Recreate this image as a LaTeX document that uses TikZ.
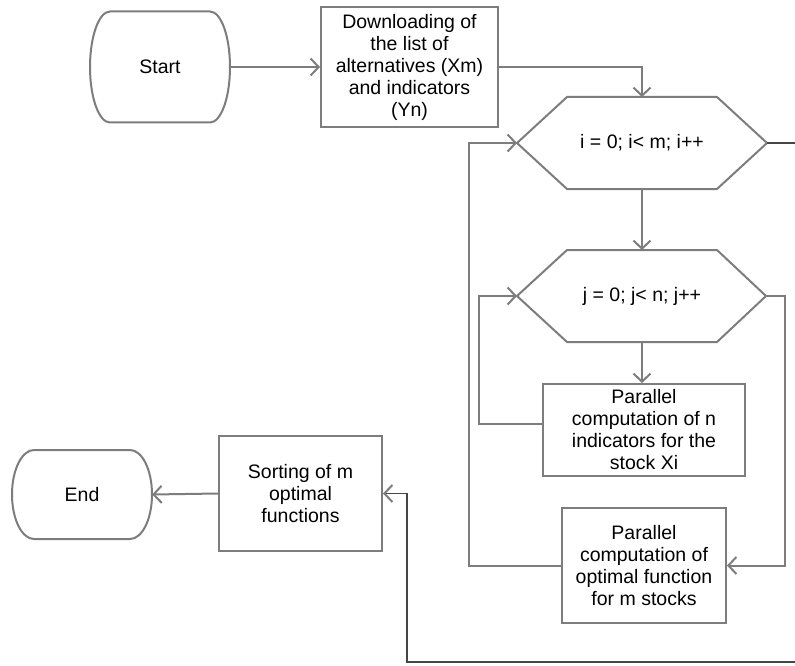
\documentclass[tikz,border=0pt]{standalone}
\usepackage{fontspec}
\setmainfont{Liberation Sans}
\usetikzlibrary{arrows.meta}
\definecolor{lgray}{RGB}{125,125,125}
\definecolor{dgray}{RGB}{70,70,70}
\begin{document}
\begin{tikzpicture}[x=1pt,y=-1pt,
  line/.style={draw=lgray, line width=2pt},
  arr/.style={line, -{Straight Barb[length=8pt,width=17pt,line width=2pt]}},
  darr/.style={draw=dgray, line width=1.6pt, -{Straight Barb[length=8pt,width=17pt,line width=2pt,color=lgray]}},
  txt/.style={align=center, font=\fontsize{19.5}{22}\selectfont, inner sep=0pt, text=black},
  box/.style={txt, draw=lgray, line width=2pt},
  term/.style={txt, draw=none}]
\clip (0,0) rectangle (795,666);
\fill[white] (0,0) rectangle (795,666);
% terminals
\node[term, minimum width=140, minimum height=111] (start) at (160,67) {Start};
\draw[line] (110,11.5) -- (210,11.5) .. controls (221.05,11.5) and (230,36.35) .. (230,67)
  .. controls (230,97.65) and (221.05,122.5) .. (210,122.5) -- (110,122.5)
  .. controls (98.95,122.5) and (90,97.65) .. (90,67)
  .. controls (90,36.35) and (98.95,11.5) .. (110,11.5) -- cycle;
\node[term, minimum width=140, minimum height=89] (end) at (82,494.5) {End};
\draw[line] (34,450) -- (130,450) .. controls (142.15,450) and (152,469.92) .. (152,494.5)
  .. controls (152,519.08) and (142.15,539) .. (130,539) -- (34,539)
  .. controls (21.85,539) and (12,519.08) .. (12,494.5)
  .. controls (12,469.92) and (21.85,450) .. (34,450) -- cycle;
% boxes
\node[box, minimum width=177, minimum height=120] (dl) at (409.5,67)
  {Downloading of\\the list of\\alternatives (Xm)\\and indicators\\(Yn)};
\node[box, minimum width=202, minimum height=92] (b3) at (644,430)
  {Parallel\\computation of n\\indicators for the\\stock Xi};
\node[box, minimum width=164, minimum height=115] (b4) at (644,565.5)
  {Parallel\\computation of\\optimal function\\for m stocks};
\node[box, minimum width=163, minimum height=115] (sort) at (300.5,493.5)
  {Sorting of m\\optimal\\functions};
% hexagons
\draw[line] (517,143) -- (567,97) -- (717,97) -- (767,143) -- (717,189) -- (567,189) -- cycle;
\node[txt] (h1) at (642,143) {i = 0; i< m; i++};
\coordinate (h1w) at (517,143);
\coordinate (h1e) at (767,143);
\coordinate (h1n) at (642,97);
\coordinate (h1s) at (642,189);
\draw[line] (517,296) -- (567,250) -- (717,250) -- (766,296) -- (717,342) -- (567,342) -- cycle;
\node[txt] (h2) at (642,296) {j = 0; j< n; j++};
\coordinate (h2w) at (517,296);
\coordinate (h2e) at (766,296);
\coordinate (h2n) at (642,250);
\coordinate (h2s) at (642,342);
% helper coordinates
\coordinate (c1) at (469,565.5);
\coordinate (c2) at (479,424);
\coordinate (c3) at (785,296);
\coordinate (c4) at (815,143);
\coordinate (c5) at (407,662);
% connectors
\draw[arr] (start.east) -- (dl.west);
\draw[arr] (dl.east) -| (h1n);
\draw[arr] (h1s) -- (h2n);
\draw[arr] (h2s) -- (h2s |- b3.north);
\draw[arr] ([yshift=6pt]b3.west) -- (c2) |- (h2w);
\draw[arr] (b4.west) -- (c1) |- (h1w);
\draw[arr] (h2e) -- (c3) |- (b4.east);
\draw[darr] (h1e) -- (c4) |- (c5) |- (sort.east);
\draw[arr] (sort.west) -- (end.east);
\end{tikzpicture}
\end{document}
